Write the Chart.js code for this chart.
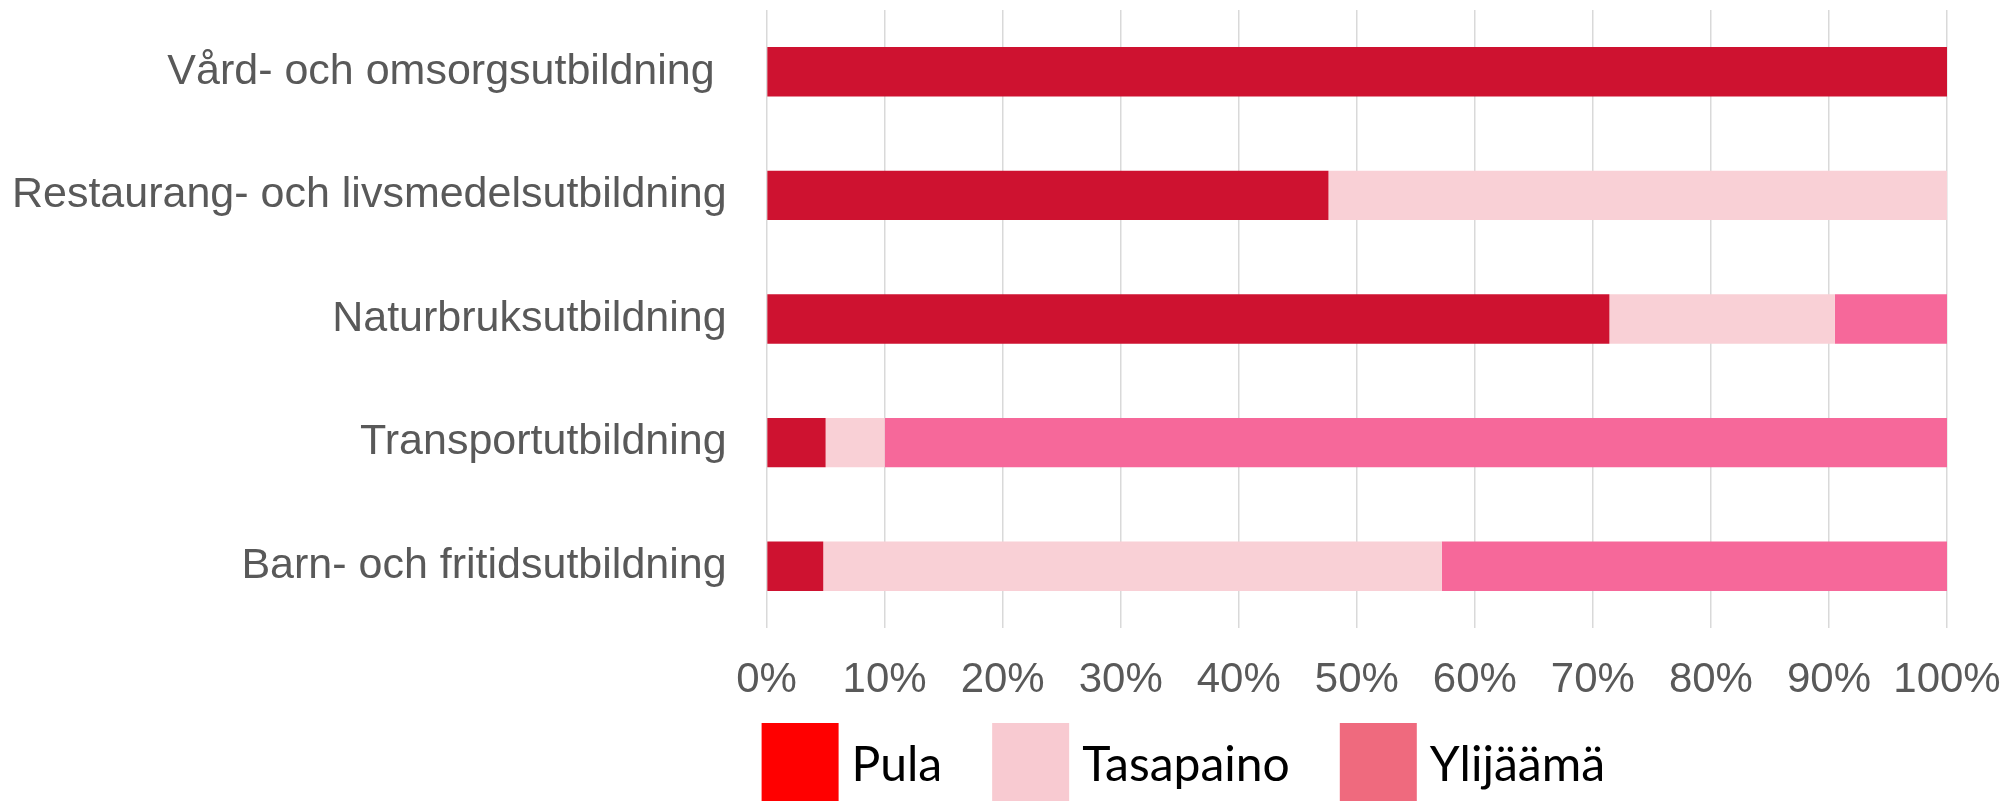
<!DOCTYPE html>
<html>
<head>
<meta charset="utf-8">
<script src="https://cdn.jsdelivr.net/npm/chart.js@4/dist/chart.umd.min.js"></script>
<style>
  html, body { margin: 0; padding: 0; background: #ffffff; }
  #wrap { width: 2010px; height: 803px; }
</style>
</head>
<body>
<div id="wrap"><canvas id="c" width="2010" height="803"></canvas></div>
<script>
const categories = [
  "Vård- och omsorgsutbildning ",
  "Restaurang- och livsmedelsutbildning",
  "Naturbruksutbildning",
  "Transportutbildning",
  "Barn- och fritidsutbildning"
];
const seriesNames = ["Pula", "Tasapaino", "Ylijäämä"];
const pula      = [100, 47.6, 71.4, 5, 4.8];
const tasapaino = [0, 52.4, 19.1, 5, 52.4];
const ylijaama  = [0, 0, 9.5, 90, 42.8];
const xTicks = [0, 10, 20, 30, 40, 50, 60, 70, 80, 90, 100];

const barColors = ["#CE1230", "#F9D0D6", "#F6689A"];
const legendColors = ["#FF0000", "#F8CAD1", "#EF6A7E"];

const refLegend = {
  id: 'refLegend',
  afterDraw(chart) {
    const ctx = chart.ctx;
    const area = chart.chartArea;
    ctx.save();
    ctx.font = '48px Lato, "Liberation Sans", sans-serif';
    ctx.textBaseline = 'alphabetic';
    ctx.textAlign = 'left';
    let x = area.left - 5;
    const boxTop = 723, boxW = 77, boxH = 78, baseline = 781;
    chart.data.datasets.forEach((ds, i) => {
      ctx.fillStyle = legendColors[i];
      ctx.fillRect(x, boxTop, boxW, boxH);
      const tx = x + boxW + 13;
      ctx.fillStyle = '#000000';
      ctx.fillText(ds.label, tx, baseline);
      x = tx + ctx.measureText(ds.label).width + 50;
    });
    ctx.restore();
  }
};

new Chart(document.getElementById('c'), {
  type: 'bar',
  data: {
    labels: categories,
    datasets: [
      { label: seriesNames[0], data: pula, backgroundColor: barColors[0] },
      { label: seriesNames[1], data: tasapaino, backgroundColor: barColors[1] },
      { label: seriesNames[2], data: ylijaama, backgroundColor: barColors[2] }
    ]
  },
  options: {
    indexAxis: 'y',
    responsive: false,
    devicePixelRatio: 1,
    animation: false,
    datasets: { bar: { categoryPercentage: 1.0, barPercentage: 0.4, borderWidth: 0 } },
    layout: { padding: { left: 0, right: 63, top: 10, bottom: 98 } },
    plugins: {
      legend: { display: false },
      tooltip: { enabled: false }
    },
    scales: {
      x: {
        stacked: true,
        min: 0,
        max: 100,
        afterBuildTicks: (s) => { s.ticks = xTicks.map(v => ({ value: v })); },
        ticks: {
          callback: (v) => v + '%',
          color: '#595959',
          font: { family: '"Liberation Sans Narrow", "Liberation Sans", sans-serif', size: 42 },
          padding: 27,
          maxRotation: 0,
          autoSkip: false
        },
        grid: { color: '#D9D9D9', lineWidth: 1.5, drawTicks: false },
        border: { display: false },
        afterFit: (s) => { s.height = 77; s.paddingLeft = 0; s.paddingRight = 0; }
      },
      y: {
        stacked: true,
        ticks: {
          color: '#595959',
          font: { family: '"Liberation Sans", Arial, sans-serif', size: 43 },
          padding: 40,
          autoSkip: false
        },
        grid: { display: false, drawTicks: false },
        border: { display: false },
        afterFit: (s) => { s.width = 766.6; s.paddingTop = 0; s.paddingBottom = 0; }
      }
    }
  },
  plugins: [refLegend]
});
</script>
</body>
</html>
